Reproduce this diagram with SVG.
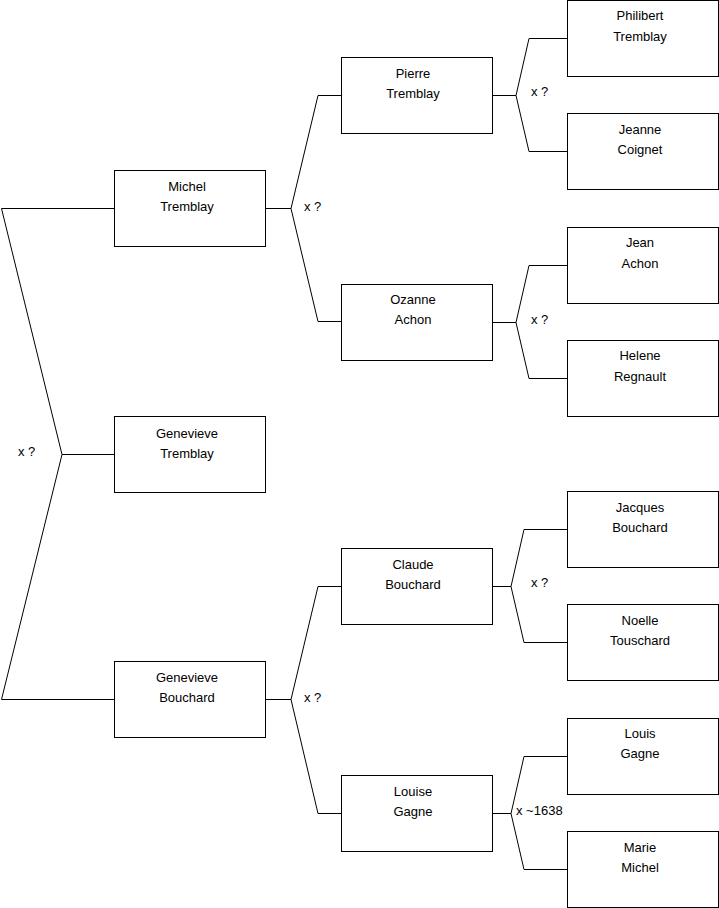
<svg xmlns="http://www.w3.org/2000/svg" width="719" height="908" viewBox="0 0 719 908">
<style>
.box{fill:#fff;stroke:#000;stroke-width:1}
.t{font-family:"Liberation Sans",Arial,sans-serif;font-size:13px;fill:#000;text-anchor:middle}
.l{font-family:"Liberation Sans",Arial,sans-serif;font-size:13px;fill:#000}
.c{fill:none;stroke:#000;stroke-width:1}
</style>
<rect width="719" height="908" fill="#fff"/>
<g id="connectors">
<polyline class="c" points="114,208.5 1.5,208.5 62,454.5 1.5,699.5 114,699.5"/>
<line class="c" x1="62" y1="454.5" x2="114" y2="454.5"/>
<text class="l" x="18" y="456">x ?</text>
<polyline class="c" points="265,208.5 291,208.5 318,95.5 341,95.5"/>
<polyline class="c" points="291,208.5 318,321.5 341,321.5"/>
<text class="l" x="304" y="211">x ?</text>
<polyline class="c" points="265,699.5 291,699.5 318,586.5 341,586.5"/>
<polyline class="c" points="291,699.5 318,813.5 341,813.5"/>
<text class="l" x="304" y="702">x ?</text>
<polyline class="c" points="492,95.5 516,95.5 529,38.5 567,38.5"/>
<polyline class="c" points="516,95.5 529,151.5 567,151.5"/>
<text class="l" x="531" y="96">x ?</text>
<polyline class="c" points="492,322.5 516,322.5 529,265.5 567,265.5"/>
<polyline class="c" points="516,322.5 529,378.5 567,378.5"/>
<text class="l" x="531" y="324">x ?</text>
<polyline class="c" points="492,586.5 511,586.5 524,529.5 567,529.5"/>
<polyline class="c" points="511,586.5 524,642.5 567,642.5"/>
<text class="l" x="531" y="587">x ?</text>
<polyline class="c" points="492,813.5 511,813.5 524,756.5 567,756.5"/>
<polyline class="c" points="511,813.5 524,869.5 567,869.5"/>
<text class="l" x="516" y="815">x ~1638</text>
</g>
<g id="michel"><rect class="box" x="114.5" y="170.5" width="151" height="76"/><text class="t" x="187" y="191">Michel</text><text class="t" x="187" y="211">Tremblay</text></g>
<g id="genevieve-t"><rect class="box" x="114.5" y="416.5" width="151" height="76"/><text class="t" x="187" y="438">Genevieve</text><text class="t" x="187" y="458">Tremblay</text></g>
<g id="genevieve-b"><rect class="box" x="114.5" y="661.5" width="151" height="76"/><text class="t" x="187" y="682">Genevieve</text><text class="t" x="187" y="702">Bouchard</text></g>
<g id="pierre"><rect class="box" x="341.5" y="57.5" width="151" height="76"/><text class="t" x="413" y="78">Pierre</text><text class="t" x="413" y="98">Tremblay</text></g>
<g id="ozanne"><rect class="box" x="341.5" y="284.5" width="151" height="76"/><text class="t" x="413" y="304">Ozanne</text><text class="t" x="413" y="324">Achon</text></g>
<g id="claude"><rect class="box" x="341.5" y="548.5" width="151" height="76"/><text class="t" x="413" y="569">Claude</text><text class="t" x="413" y="589">Bouchard</text></g>
<g id="louise"><rect class="box" x="341.5" y="775.5" width="151" height="76"/><text class="t" x="413" y="796">Louise</text><text class="t" x="413" y="816">Gagne</text></g>
<g id="philibert"><rect class="box" x="567.5" y="0.5" width="151" height="76"/><text class="t" x="640" y="20">Philibert</text><text class="t" x="640" y="41">Tremblay</text></g>
<g id="jeanne"><rect class="box" x="567.5" y="113.5" width="151" height="76"/><text class="t" x="640" y="134">Jeanne</text><text class="t" x="640" y="154">Coignet</text></g>
<g id="jean"><rect class="box" x="567.5" y="227.5" width="151" height="76"/><text class="t" x="640" y="247">Jean</text><text class="t" x="640" y="268">Achon</text></g>
<g id="helene"><rect class="box" x="567.5" y="340.5" width="151" height="76"/><text class="t" x="640" y="360">Helene</text><text class="t" x="640" y="381">Regnault</text></g>
<g id="jacques"><rect class="box" x="567.5" y="491.5" width="151" height="76"/><text class="t" x="640" y="512">Jacques</text><text class="t" x="640" y="532">Bouchard</text></g>
<g id="noelle"><rect class="box" x="567.5" y="604.5" width="151" height="76"/><text class="t" x="640" y="625">Noelle</text><text class="t" x="640" y="645">Touschard</text></g>
<g id="louis"><rect class="box" x="567.5" y="718.5" width="151" height="76"/><text class="t" x="640" y="738">Louis</text><text class="t" x="640" y="758">Gagne</text></g>
<g id="marie"><rect class="box" x="567.5" y="831.5" width="151" height="76"/><text class="t" x="640" y="852">Marie</text><text class="t" x="640" y="872">Michel</text></g>
</svg>
